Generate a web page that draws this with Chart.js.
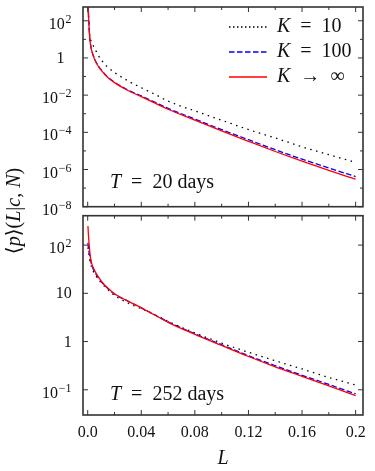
<!DOCTYPE html>
<html>
<head>
<meta charset="utf-8">
<script src="https://cdn.jsdelivr.net/npm/chart.js@4.4.1/dist/chart.umd.min.js"></script>
<style>
  html, body { margin: 0; padding: 0; background: #fff; }
  #wrap { position: relative; width: 375px; height: 471px; }
  #wrap canvas { position: absolute; left: 0; top: 0; }
</style>
</head>
<body>
<div id="wrap">
  <canvas id="topChart" width="375" height="471"></canvas>
  <canvas id="bottomChart" width="375" height="471"></canvas>
</div>
<script>
// L (horizontal axis)
var L = [0.0002, 0.0005, 0.001, 0.0015, 0.002, 0.003, 0.004, 0.006, 0.008, 0.01, 0.015, 0.02,
         0.03, 0.04, 0.05, 0.06, 0.08, 0.1, 0.12, 0.14, 0.16, 0.18, 0.2];

// T = 20 days
var top_K10  = [800, 282, 56, 20, 11.2, 6.6, 4.8, 2.5, 1.35, 0.79, 0.32, 0.166,
                0.059, 0.025, 0.0112, 0.0048, 0.00141, 4.5e-4, 1.41e-4, 5.0e-5, 1.66e-5, 6.3e-6, 2.4e-6];
var top_K100 = [800, 282, 50, 12.6, 6.0, 2.5, 1.45, 0.65, 0.37, 0.233, 0.093, 0.050,
                0.0188, 0.0091, 0.0042, 0.00195, 5.2e-4, 1.4e-4, 4.0e-5, 1.16e-5, 3.6e-6, 1.2e-6, 4.2e-7];
var top_Kinf = [800, 282, 50, 12.6, 6.0, 2.5, 1.41, 0.63, 0.355, 0.224, 0.089, 0.047,
                0.0178, 0.0083, 0.0038, 0.00174, 4.5e-4, 1.2e-4, 3.3e-5, 9.3e-6, 2.8e-6, 8.9e-7, 3.0e-7];

// T = 252 days
var bot_K10  = [89, 79, 63, 50, 42.7, 34.7, 29.5, 23.4, 19.5, 16.6, 12.0, 9.1,
                6.3, 4.8, 3.6, 2.63, 1.51, 0.93, 0.60, 0.40, 0.27, 0.18, 0.126];
var bot_K100 = [112, 89, 72, 59, 50, 39, 32.4, 25.7, 20.9, 17.6, 12.6, 9.7,
                6.9, 5.0, 3.6, 2.57, 1.45, 0.86, 0.51, 0.316, 0.20, 0.129, 0.082];
var bot_Kinf = [250, 170, 112, 76, 57.5, 41.7, 34.7, 26.9, 21.9, 18.2, 12.9, 9.8,
                6.9, 5.0, 3.55, 2.5, 1.41, 0.83, 0.49, 0.30, 0.19, 0.12, 0.076];

// ticks
var xTicks = [0, 0.04, 0.08, 0.12, 0.16, 0.2];
var xTickLabels = ['0.0', '0.04', '0.08', '0.12', '0.16', '0.2'];
var xMinor = [0.02, 0.06, 0.1, 0.14, 0.18];
var topYTicks = [1e2, 1, 1e-2, 1e-4, 1e-6, 1e-8];
var topYLabels = [['10', '2'], ['1', ''], ['10', '−2'], ['10', '−4'], ['10', '−6'], ['10', '−8']];
var topYMinor = [10, 0.1, 1e-3, 1e-5, 1e-7];
var botYTicks = [1e2, 10, 1, 0.1];
var botYLabels = [['10', '2'], ['10', ''], ['1', ''], ['10', '−1']];

var SERIF = "'Liberation Serif', 'DejaVu Serif', serif";
var INK = '#111';

function pts(ys) {
  return L.map(function(x, i) { return {x: x, y: ys[i]}; });
}

function richText(ctx, parts, x, y, size) {
  ctx.textBaseline = 'middle';
  ctx.textAlign = 'left';
  parts.forEach(function(p) {
    ctx.font = (p[1] ? 'italic ' : '') + size + 'px ' + SERIF;
    ctx.fillText(p[0], x, y);
    x += ctx.measureText(p[0]).width;
  });
}
function richWidth(ctx, parts, size) {
  var w = 0;
  parts.forEach(function(p) {
    ctx.font = (p[1] ? 'italic ' : '') + size + 'px ' + SERIF;
    w += ctx.measureText(p[0]).width;
  });
  return w;
}

// y tick labels as 10 with a raised exponent, placed by the y scale
function yLabels(ctx, ys, ticks, labels, shortRight) {
  ctx.textAlign = 'left';
  ctx.textBaseline = 'alphabetic';
  ticks.forEach(function(v, i) {
    var p = ys.getPixelForValue(v);
    var base = labels[i][0], exp = labels[i][1];
    ctx.font = '16px ' + SERIF;
    var wb = ctx.measureText(base).width;
    if (exp) {
      ctx.font = '12px ' + SERIF;
      var we = ctx.measureText(exp).width;
      var x0 = 71.5 - we - 0.8 - wb;
      ctx.font = '16px ' + SERIF;
      ctx.fillText(base, x0, p + 8);
      ctx.font = '12px ' + SERIF;
      ctx.fillText(exp, x0 + wb + 0.8, p + 2);
    } else {
      var right = (base === '1' && shortRight) ? 64.5 : 71.7;
      ctx.fillText(base, right - wb, p + 5);
    }
  });
}

function datasets(k10, k100, kinf) {
  return [{
    label: 'K = 10', data: pts(k10), borderColor: '#000', borderWidth: 1.3,
    borderDash: [1.5, 4.5], order: 2
  }, {
    label: 'K = 100', data: pts(k100), borderColor: '#0000ff', borderWidth: 1.3,
    borderDash: [5.5, 2.5], order: 1
  }, {
    label: 'K → ∞', data: pts(kinf), borderColor: '#ff0000', borderWidth: 1.3, order: 0
  }];
}

function framePlugin(yMajor, yMinor, extra) {
  return {
    id: 'frame',
    afterDatasetsDraw: function(chart) {
      var ctx = chart.ctx, a = chart.chartArea;
      var xs = chart.scales.x, ys = chart.scales.y;
      ctx.save();
      ctx.strokeStyle = '#333';
      ctx.lineWidth = 1;
      function seg(x1, y1, x2, y2) {
        ctx.beginPath(); ctx.moveTo(x1, y1); ctx.lineTo(x2, y2); ctx.stroke();
      }
      xTicks.forEach(function(v) {
        var p = xs.getPixelForValue(v);
        seg(p, a.bottom, p, a.bottom - 5); seg(p, a.top, p, a.top + 5);
      });
      xMinor.forEach(function(v) {
        var p = xs.getPixelForValue(v);
        seg(p, a.bottom, p, a.bottom - 3); seg(p, a.top, p, a.top + 3);
      });
      yMajor.forEach(function(v) {
        var p = ys.getPixelForValue(v);
        seg(a.left, p, a.left + 5, p); seg(a.right, p, a.right - 5, p);
      });
      yMinor.forEach(function(v) {
        var p = ys.getPixelForValue(v);
        seg(a.left, p, a.left + 3, p); seg(a.right, p, a.right - 3, p);
      });
      ctx.lineWidth = 1.6;
      ctx.strokeRect(a.left, a.top, a.right - a.left, a.bottom - a.top);
      ctx.fillStyle = INK;
      extra(ctx, a, ys);
      ctx.restore();
    }
  };
}

var tickFont = {family: SERIF, size: 16};

new Chart(document.getElementById('topChart'), {
  type: 'line',
  data: {datasets: datasets(top_K10, top_K100, top_Kinf)},
  options: {
    responsive: false, animation: false, devicePixelRatio: 1,
    layout: {padding: {top: 7, right: 12, bottom: 264.3, left: 0}},
    elements: {point: {radius: 0}, line: {cubicInterpolationMode: 'monotone'}},
    plugins: {legend: {display: false}, tooltip: {enabled: false}},
    scales: {
      x: {type: 'linear', min: -0.0035, max: 0.2055, display: false},
      y: {
        type: 'logarithmic', min: 1e-8, max: 550,
        grid: {display: false, drawTicks: false}, border: {display: false},
        afterFit: function(s) { s.width = 83; },
        ticks: {display: false}
      }
    }
  },
  plugins: [framePlugin(topYTicks, topYMinor, function(ctx, a, ys) {
    yLabels(ctx, ys, topYTicks, topYLabels, true);
    richText(ctx, [['T', 1], ['\u2002=\u200220 days', 0]], 110, 183, 20);
    var rows = [
      {y: 27, color: '#000', dash: [1.5, 2.5], parts: [['K', 1], ['\u2002=\u200210', 0]]},
      {y: 52, color: '#0000ff', dash: [5.5, 2.5], parts: [['K', 1], ['\u2002=\u2002100', 0]]},
      {y: 77, color: '#ff0000', dash: [], parts: [['K', 1], ['\u2002→\u2002∞', 0]]}
    ];
    rows.forEach(function(r) {
      ctx.save();
      ctx.strokeStyle = r.color; ctx.lineWidth = 1.3; ctx.setLineDash(r.dash);
      ctx.beginPath(); ctx.moveTo(229, r.y); ctx.lineTo(267, r.y); ctx.stroke();
      ctx.restore();
      richText(ctx, r.parts, 277, r.y, 20);
    });
  })]
});

new Chart(document.getElementById('bottomChart'), {
  type: 'line',
  data: {datasets: datasets(bot_K10, bot_K100, bot_Kinf)},
  options: {
    responsive: false, animation: false, devicePixelRatio: 1,
    layout: {padding: {top: 215.7, right: 12, bottom: 0, left: 0}},
    elements: {point: {radius: 0}, line: {cubicInterpolationMode: 'monotone'}},
    plugins: {legend: {display: false}, tooltip: {enabled: false}},
    scales: {
      x: {
        type: 'linear', min: -0.0035, max: 0.2055,
        grid: {display: false, drawTicks: false}, border: {display: false},
        afterBuildTicks: function(s) { s.ticks = xTicks.map(function(v) { return {value: v}; }); },
        afterFit: function(s) { s.height = 56; },
        ticks: {
          padding: 8, color: INK, font: tickFont, autoSkip: false, maxRotation: 0,
          callback: function(v, i) { return xTickLabels[i]; }
        },
        title: {display: true, text: 'L', color: INK, padding: {top: 0, bottom: 0},
                font: {family: SERIF, size: 20, style: 'italic'}}
      },
      y: {
        type: 'logarithmic', min: 0.030, max: 407,
        grid: {display: false, drawTicks: false}, border: {display: false},
        afterFit: function(s) { s.width = 83; },
        ticks: {display: false}
      }
    }
  },
  plugins: [framePlugin(botYTicks, [], function(ctx, a, ys) {
    yLabels(ctx, ys, botYTicks, botYLabels, false);
    richText(ctx, [['T', 1], ['\u2002=\u2002252 days', 0]], 110, 395, 20);
    var title = [['⟨', 0], ['p', 1], ['⟩(', 0], ['L', 1], ['|', 0], ['c', 1], [', ', 0], ['N', 1], [')', 0]];
    var w = richWidth(ctx, title, 20);
    ctx.save();
    ctx.translate(15, 211);
    ctx.rotate(-Math.PI / 2);
    richText(ctx, title, -w / 2, 0, 20);
    ctx.restore();
  })]
});
</script>
</body>
</html>
